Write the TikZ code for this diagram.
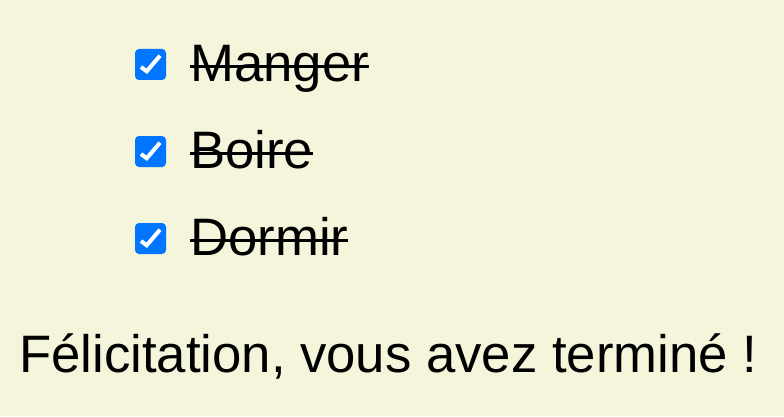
\documentclass[tikz,border=0pt]{standalone}
\usepackage{fontspec}
\setmainfont{Liberation Sans}
\usepackage{tikz}
\definecolor{beigebg}{RGB}{245,245,220}
\definecolor{checkblue}{RGB}{0,117,255}
\tikzset{
  checkbox/.style={fill=checkblue, rounded corners=4pt, minimum size=31pt, inner sep=0pt},
  item/.style={anchor=base west, inner sep=0pt, font=\fontsize{52.7}{60}\selectfont},
  tick/.style={white, line width=4pt},
  strike/.style={line width=3.5pt}
}
\begin{document}
\begin{tikzpicture}
\fill [beigebg] (0,0) rectangle (784pt,416pt);
\useasboundingbox (0,0) rectangle (784pt,416pt);
\node [item] (manger) at (190pt,334.5pt) {Manger};
\node [item] (boire) at (190pt,247.5pt) {Boire};
\node [item] (dormir) at (190pt,160.5pt) {Dormir};
\node [checkbox] (box1) at (150.5pt,351.5pt) {};
\node [checkbox] (box2) at (150.5pt,264.5pt) {};
\node [checkbox] (box3) at (150.5pt,177.5pt) {};
\foreach \b in {box1,box2,box3}
  \draw [tick] ([shift={(-9.5pt,-2.5pt)}]\b.center) -- ([shift={(-3.8pt,-6.8pt)}]\b.center) -- ([shift={(9.5pt,8.8pt)}]\b.center);
\foreach \t in {manger,boire,dormir}
  \draw [strike] ([yshift=15pt]\t.base west) -- ([yshift=15pt]\t.base east);
\node [item] (bravo) at (19pt,44pt) {Félicitation, vous avez terminé !};
\end{tikzpicture}
\end{document}
